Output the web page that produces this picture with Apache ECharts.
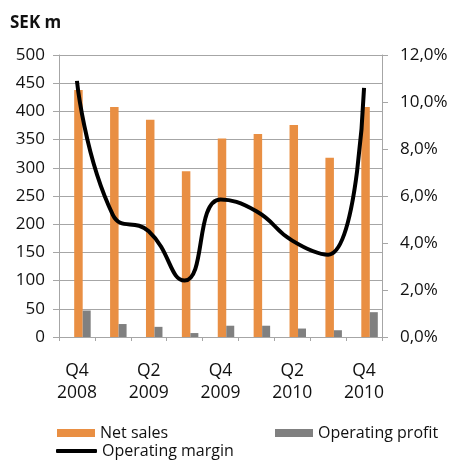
<!DOCTYPE html>
<html><head><meta charset="utf-8">
<script src="https://cdn.jsdelivr.net/npm/echarts@6/dist/echarts.min.js"></script>
<style>html,body{margin:0;padding:0;background:#fff}#c{width:454px;height:460px}</style>
</head><body><div id="c"></div>
<script>
const categories = ['Q4\n2008','Q1\n2009','Q2\n2009','Q3\n2009','Q4\n2009','Q1\n2010','Q2\n2010','Q3\n2010','Q4\n2010'];
const netSales = [438, 408, 385, 294, 352, 360, 376, 318, 408];
const operatingProfit = [47, 23, 18, 7, 20, 20, 15, 12, 44];
const operatingMargin = [10.9, 5.2, 4.5, 2.4, 5.85, 5.35, 4.1, 3.5, 10.6];
const leftTicks = {min: 0, max: 500, interval: 50};
const rightTicks = {min: 0, max: 12, interval: 2};

const FONT = 'Open Sans';
const GRID = '#a6a6a6';
const chart = echarts.init(document.getElementById('c'));
chart.setOption({
  animation: false,
  textStyle: {fontFamily: FONT, color: '#111'},
  title: {text: 'SEK m', left: 10, top: 15, padding: 0, textStyle: {fontFamily: FONT, fontSize: 17, fontWeight: 'bold', color: '#111'}},
  grid: {left: 59, right: 72, top: 55, bottom: 123},
  legend: [
    {data: ['Net sales'], left: 57, top: 425, padding: 0, itemWidth: 38, itemHeight: 8, icon: 'rect',
     textStyle: {fontFamily: FONT, fontSize: 16, color: '#111'}},
    {data: ['Operating profit'], left: 275, top: 425, padding: 0, itemWidth: 38, itemHeight: 8, icon: 'rect',
     textStyle: {fontFamily: FONT, fontSize: 16, color: '#111'}},
    {data: ['Operating margin'], left: 56, top: 443, padding: 0, itemWidth: 41, itemHeight: 4, icon: 'roundRect',
     itemStyle: {color: '#000'},
     textStyle: {fontFamily: FONT, fontSize: 16, color: '#111'}}
  ],
  xAxis: {
    type: 'category', data: categories, boundaryGap: true,
    axisLine: {lineStyle: {color: GRID, width: 1}},
    axisTick: {show: true, interval: 0, length: 4, lineStyle: {color: GRID}},
    axisLabel: {interval: 1, fontFamily: FONT, fontSize: 17.5, color: '#111', lineHeight: 22, margin: 23}
  },
  yAxis: [
    {type: 'value', min: leftTicks.min, max: leftTicks.max, interval: leftTicks.interval,
     axisLine: {show: true, lineStyle: {color: GRID}},
     axisTick: {show: true, length: 6, lineStyle: {color: GRID}},
     splitLine: {show: true, lineStyle: {color: GRID, width: 1}},
     axisLabel: {fontFamily: FONT, fontSize: 17, color: '#111', margin: 14}},
    {type: 'value', min: rightTicks.min, max: rightTicks.max, interval: rightTicks.interval, position: 'right',
     axisLine: {show: true, lineStyle: {color: GRID}},
     axisTick: {show: true, length: 6, lineStyle: {color: GRID}},
     splitLine: {show: false},
     axisLabel: {fontFamily: FONT, fontSize: 17, color: '#111', margin: 18,
       formatter: v => v.toFixed(1).replace('.', ',') + '%'}}
  ],
  series: [
    {name: 'spacer', type: 'bar', data: netSales.map(() => '-'), barWidth: 11, barGap: 0, silent: true},
    {name: 'Net sales', type: 'bar', data: netSales, barWidth: 8.5, barGap: 0, itemStyle: {color: '#E98F43'}},
    {name: 'Operating profit', type: 'bar', data: operatingProfit, barWidth: 8, barGap: 0, itemStyle: {color: '#808080'}},
    {name: 'Operating margin', type: 'line', yAxisIndex: 1, data: operatingMargin, smooth: 0.5, symbol: 'none',
     lineStyle: {color: '#000', width: 4}, itemStyle: {color: '#000'}}
  ]
});
</script></body></html>
